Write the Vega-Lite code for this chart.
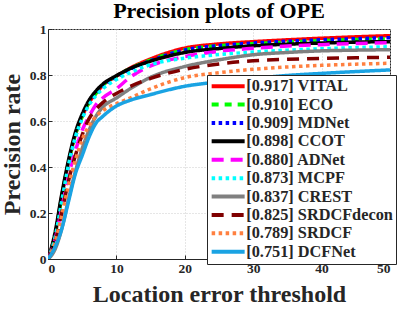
{
  "$schema": "https://vega.github.io/schema/vega-lite/v6.json",
  "width": 342,
  "height": 230,
  "autosize": {"type": "none"},
  "padding": {"left": 48, "top": 29, "right": 8, "bottom": 50},
  "background": "white",
  "title": {"text": "Precision plots of OPE", "font": "Liberation Serif", "fontSize": 22, "fontWeight": "bold", "color": "black", "offset": 5, "dy": 6, "anchor": "middle"},
  "config": {
    "view": {"stroke": "#262626", "strokeWidth": 1},
    "axis": {
      "labelFont": "Liberation Serif", "labelFontWeight": "bold", "labelFontSize": 13.5, "labelColor": "#262626",
      "titleFont": "Liberation Serif", "titleFontWeight": "bold", "titleFontSize": 24, "titleColor": "#262626",
      "domainColor": "#262626", "tickColor": "#262626", "tickSize": -4,
      "gridColor": "#cccccc", "gridDash": [1, 2], "gridWidth": 1
    },
    "legend": {"title": null, "orient": "none", "legendX": 159, "legendY": 46, "symbolType": "M-3.3,0H3.3", "symbolSize": 100, "symbolStrokeWidth": 4, "symbolOffset": 10,
        "labelFont": "Liberation Serif", "labelFontWeight": "bold", "labelFontSize": 16.3, "labelColor": "#262626", "labelOffset": 10, "labelLimit": 300,
        "rowPadding": 1.4, "padding": 3, "strokeColor": "#262626", "fillColor": "white"}
  },
  "data": {"values": [
    {"s":"[0.917] VITAL","x":0,"y":0},{"s":"[0.917] VITAL","x":1,"y":0.10},{"s":"[0.917] VITAL","x":2,"y":0.27},{"s":"[0.917] VITAL","x":3,"y":0.42},{"s":"[0.917] VITAL","x":4,"y":0.54},{"s":"[0.917] VITAL","x":5,"y":0.62},{"s":"[0.917] VITAL","x":6,"y":0.68},{"s":"[0.917] VITAL","x":7,"y":0.72},{"s":"[0.917] VITAL","x":8,"y":0.755},{"s":"[0.917] VITAL","x":10,"y":0.795},{"s":"[0.917] VITAL","x":12,"y":0.83},{"s":"[0.917] VITAL","x":15,"y":0.87},{"s":"[0.917] VITAL","x":20,"y":0.917},{"s":"[0.917] VITAL","x":25,"y":0.935},{"s":"[0.917] VITAL","x":30,"y":0.945},{"s":"[0.917] VITAL","x":35,"y":0.953},{"s":"[0.917] VITAL","x":40,"y":0.96},{"s":"[0.917] VITAL","x":45,"y":0.966},{"s":"[0.917] VITAL","x":50,"y":0.971},
    {"s":"[0.910] ECO","x":0,"y":0},{"s":"[0.910] ECO","x":1,"y":0.10},{"s":"[0.910] ECO","x":2,"y":0.27},{"s":"[0.910] ECO","x":3,"y":0.42},{"s":"[0.910] ECO","x":4,"y":0.54},{"s":"[0.910] ECO","x":5,"y":0.62},{"s":"[0.910] ECO","x":6,"y":0.68},{"s":"[0.910] ECO","x":7,"y":0.72},{"s":"[0.910] ECO","x":8,"y":0.755},{"s":"[0.910] ECO","x":10,"y":0.795},{"s":"[0.910] ECO","x":12,"y":0.828},{"s":"[0.910] ECO","x":15,"y":0.865},{"s":"[0.910] ECO","x":20,"y":0.910},{"s":"[0.910] ECO","x":25,"y":0.927},{"s":"[0.910] ECO","x":30,"y":0.936},{"s":"[0.910] ECO","x":35,"y":0.943},{"s":"[0.910] ECO","x":40,"y":0.949},{"s":"[0.910] ECO","x":45,"y":0.954},{"s":"[0.910] ECO","x":50,"y":0.957},
    {"s":"[0.909] MDNet","x":0,"y":0},{"s":"[0.909] MDNet","x":1,"y":0.09},{"s":"[0.909] MDNet","x":2,"y":0.26},{"s":"[0.909] MDNet","x":3,"y":0.41},{"s":"[0.909] MDNet","x":4,"y":0.53},{"s":"[0.909] MDNet","x":5,"y":0.615},{"s":"[0.909] MDNet","x":6,"y":0.675},{"s":"[0.909] MDNet","x":7,"y":0.715},{"s":"[0.909] MDNet","x":8,"y":0.75},{"s":"[0.909] MDNet","x":10,"y":0.79},{"s":"[0.909] MDNet","x":12,"y":0.825},{"s":"[0.909] MDNet","x":15,"y":0.862},{"s":"[0.909] MDNet","x":20,"y":0.909},{"s":"[0.909] MDNet","x":25,"y":0.928},{"s":"[0.909] MDNet","x":30,"y":0.939},{"s":"[0.909] MDNet","x":35,"y":0.947},{"s":"[0.909] MDNet","x":40,"y":0.953},{"s":"[0.909] MDNet","x":45,"y":0.958},{"s":"[0.909] MDNet","x":50,"y":0.962},
    {"s":"[0.898] CCOT","x":0,"y":0},{"s":"[0.898] CCOT","x":1,"y":0.11},{"s":"[0.898] CCOT","x":2,"y":0.28},{"s":"[0.898] CCOT","x":3,"y":0.43},{"s":"[0.898] CCOT","x":4,"y":0.55},{"s":"[0.898] CCOT","x":5,"y":0.63},{"s":"[0.898] CCOT","x":6,"y":0.69},{"s":"[0.898] CCOT","x":7,"y":0.73},{"s":"[0.898] CCOT","x":8,"y":0.76},{"s":"[0.898] CCOT","x":10,"y":0.797},{"s":"[0.898] CCOT","x":12,"y":0.828},{"s":"[0.898] CCOT","x":15,"y":0.86},{"s":"[0.898] CCOT","x":20,"y":0.898},{"s":"[0.898] CCOT","x":25,"y":0.915},{"s":"[0.898] CCOT","x":30,"y":0.927},{"s":"[0.898] CCOT","x":35,"y":0.934},{"s":"[0.898] CCOT","x":40,"y":0.939},{"s":"[0.898] CCOT","x":45,"y":0.943},{"s":"[0.898] CCOT","x":50,"y":0.945},
    {"s":"[0.880] ADNet","x":0,"y":0},{"s":"[0.880] ADNet","x":1,"y":0.08},{"s":"[0.880] ADNet","x":2,"y":0.22},{"s":"[0.880] ADNet","x":3,"y":0.36},{"s":"[0.880] ADNet","x":4,"y":0.47},{"s":"[0.880] ADNet","x":5,"y":0.56},{"s":"[0.880] ADNet","x":6,"y":0.62},{"s":"[0.880] ADNet","x":7,"y":0.67},{"s":"[0.880] ADNet","x":8,"y":0.70},{"s":"[0.880] ADNet","x":10,"y":0.74},{"s":"[0.880] ADNet","x":12,"y":0.79},{"s":"[0.880] ADNet","x":15,"y":0.84},{"s":"[0.880] ADNet","x":20,"y":0.880},{"s":"[0.880] ADNet","x":25,"y":0.903},{"s":"[0.880] ADNet","x":30,"y":0.916},{"s":"[0.880] ADNet","x":35,"y":0.926},{"s":"[0.880] ADNet","x":40,"y":0.932},{"s":"[0.880] ADNet","x":45,"y":0.937},{"s":"[0.880] ADNet","x":50,"y":0.940},
    {"s":"[0.873] MCPF","x":0,"y":0},{"s":"[0.873] MCPF","x":1,"y":0.09},{"s":"[0.873] MCPF","x":2,"y":0.25},{"s":"[0.873] MCPF","x":3,"y":0.41},{"s":"[0.873] MCPF","x":4,"y":0.53},{"s":"[0.873] MCPF","x":5,"y":0.61},{"s":"[0.873] MCPF","x":6,"y":0.67},{"s":"[0.873] MCPF","x":7,"y":0.71},{"s":"[0.873] MCPF","x":8,"y":0.74},{"s":"[0.873] MCPF","x":10,"y":0.78},{"s":"[0.873] MCPF","x":12,"y":0.81},{"s":"[0.873] MCPF","x":15,"y":0.845},{"s":"[0.873] MCPF","x":20,"y":0.873},{"s":"[0.873] MCPF","x":25,"y":0.889},{"s":"[0.873] MCPF","x":30,"y":0.900},{"s":"[0.873] MCPF","x":35,"y":0.908},{"s":"[0.873] MCPF","x":40,"y":0.914},{"s":"[0.873] MCPF","x":45,"y":0.919},{"s":"[0.873] MCPF","x":50,"y":0.923},
    {"s":"[0.837] CREST","x":0,"y":0},{"s":"[0.837] CREST","x":1,"y":0.04},{"s":"[0.837] CREST","x":2,"y":0.13},{"s":"[0.837] CREST","x":3,"y":0.26},{"s":"[0.837] CREST","x":4,"y":0.38},{"s":"[0.837] CREST","x":5,"y":0.48},{"s":"[0.837] CREST","x":6,"y":0.56},{"s":"[0.837] CREST","x":7,"y":0.62},{"s":"[0.837] CREST","x":8,"y":0.66},{"s":"[0.837] CREST","x":10,"y":0.70},{"s":"[0.837] CREST","x":12,"y":0.74},{"s":"[0.837] CREST","x":15,"y":0.79},{"s":"[0.837] CREST","x":20,"y":0.837},{"s":"[0.837] CREST","x":25,"y":0.866},{"s":"[0.837] CREST","x":30,"y":0.888},{"s":"[0.837] CREST","x":35,"y":0.898},{"s":"[0.837] CREST","x":40,"y":0.905},{"s":"[0.837] CREST","x":45,"y":0.908},{"s":"[0.837] CREST","x":50,"y":0.910},
    {"s":"[0.825] SRDCFdecon","x":0,"y":0},{"s":"[0.825] SRDCFdecon","x":1,"y":0.07},{"s":"[0.825] SRDCFdecon","x":2,"y":0.20},{"s":"[0.825] SRDCFdecon","x":3,"y":0.34},{"s":"[0.825] SRDCFdecon","x":4,"y":0.45},{"s":"[0.825] SRDCFdecon","x":5,"y":0.54},{"s":"[0.825] SRDCFdecon","x":6,"y":0.61},{"s":"[0.825] SRDCFdecon","x":7,"y":0.65},{"s":"[0.825] SRDCFdecon","x":8,"y":0.68},{"s":"[0.825] SRDCFdecon","x":10,"y":0.72},{"s":"[0.825] SRDCFdecon","x":12,"y":0.75},{"s":"[0.825] SRDCFdecon","x":15,"y":0.785},{"s":"[0.825] SRDCFdecon","x":20,"y":0.825},{"s":"[0.825] SRDCFdecon","x":25,"y":0.848},{"s":"[0.825] SRDCFdecon","x":30,"y":0.862},{"s":"[0.825] SRDCFdecon","x":35,"y":0.868},{"s":"[0.825] SRDCFdecon","x":40,"y":0.872},{"s":"[0.825] SRDCFdecon","x":45,"y":0.875},{"s":"[0.825] SRDCFdecon","x":50,"y":0.877},
    {"s":"[0.789] SRDCF","x":0,"y":0},{"s":"[0.789] SRDCF","x":1,"y":0.07},{"s":"[0.789] SRDCF","x":2,"y":0.19},{"s":"[0.789] SRDCF","x":3,"y":0.32},{"s":"[0.789] SRDCF","x":4,"y":0.43},{"s":"[0.789] SRDCF","x":5,"y":0.52},{"s":"[0.789] SRDCF","x":6,"y":0.58},{"s":"[0.789] SRDCF","x":7,"y":0.62},{"s":"[0.789] SRDCF","x":8,"y":0.645},{"s":"[0.789] SRDCF","x":10,"y":0.675},{"s":"[0.789] SRDCF","x":12,"y":0.70},{"s":"[0.789] SRDCF","x":15,"y":0.74},{"s":"[0.789] SRDCF","x":20,"y":0.789},{"s":"[0.789] SRDCF","x":25,"y":0.81},{"s":"[0.789] SRDCF","x":30,"y":0.825},{"s":"[0.789] SRDCF","x":35,"y":0.835},{"s":"[0.789] SRDCF","x":40,"y":0.842},{"s":"[0.789] SRDCF","x":45,"y":0.847},{"s":"[0.789] SRDCF","x":50,"y":0.851},
    {"s":"[0.751] DCFNet","x":0,"y":0},{"s":"[0.751] DCFNet","x":1,"y":0.05},{"s":"[0.751] DCFNet","x":2,"y":0.13},{"s":"[0.751] DCFNet","x":3,"y":0.25},{"s":"[0.751] DCFNet","x":4,"y":0.37},{"s":"[0.751] DCFNet","x":5,"y":0.45},{"s":"[0.751] DCFNet","x":6,"y":0.53},{"s":"[0.751] DCFNet","x":7,"y":0.59},{"s":"[0.751] DCFNet","x":8,"y":0.62},{"s":"[0.751] DCFNet","x":10,"y":0.665},{"s":"[0.751] DCFNet","x":12,"y":0.69},{"s":"[0.751] DCFNet","x":15,"y":0.715},{"s":"[0.751] DCFNet","x":20,"y":0.751},{"s":"[0.751] DCFNet","x":25,"y":0.77},{"s":"[0.751] DCFNet","x":30,"y":0.785},{"s":"[0.751] DCFNet","x":35,"y":0.798},{"s":"[0.751] DCFNet","x":40,"y":0.807},{"s":"[0.751] DCFNet","x":45,"y":0.815},{"s":"[0.751] DCFNet","x":50,"y":0.822}
  ]},
  "mark": {"type": "line", "strokeWidth": 3.5, "interpolate": "monotone", "clip": true},
  "encoding": {
    "x": {"field": "x", "type": "quantitative", "scale": {"domain": [0, 50], "nice": false},
      "axis": {"values": [0, 10, 20, 30, 40, 50], "title": "Location error threshold", "titlePadding": 8, "labelPadding": 6}},
    "y": {"field": "y", "type": "quantitative", "scale": {"domain": [0, 1], "nice": false},
      "axis": {"values": [0, 0.2, 0.4, 0.6, 0.8, 1], "format": "~g", "title": "Precision rate", "titlePadding": 5, "labelPadding": 6}},
    "color": {"field": "s", "type": "nominal", "sort": null,
      "scale": {"domain": ["[0.917] VITAL", "[0.910] ECO", "[0.909] MDNet", "[0.898] CCOT", "[0.880] ADNet", "[0.873] MCPF", "[0.837] CREST", "[0.825] SRDCFdecon", "[0.789] SRDCF", "[0.751] DCFNet"],
        "range": ["#ff0000", "#00ff00", "#0000ff", "#000000", "#ff00ff", "#00ffff", "#808080", "#800000", "#ff8040", "#1aa3e3"]}},
    "strokeDash": {"field": "s", "type": "nominal", "sort": null,
      "scale": {"domain": ["[0.917] VITAL", "[0.910] ECO", "[0.909] MDNet", "[0.898] CCOT", "[0.880] ADNet", "[0.873] MCPF", "[0.837] CREST", "[0.825] SRDCFdecon", "[0.789] SRDCF", "[0.751] DCFNet"],
        "range": [[1, 0], [7, 6], [3.5, 3.5], [1, 0], [12, 7], [3.5, 3.5], [1, 0], [12, 8], [3.5, 3.5], [1, 0]]}}
  }
}
